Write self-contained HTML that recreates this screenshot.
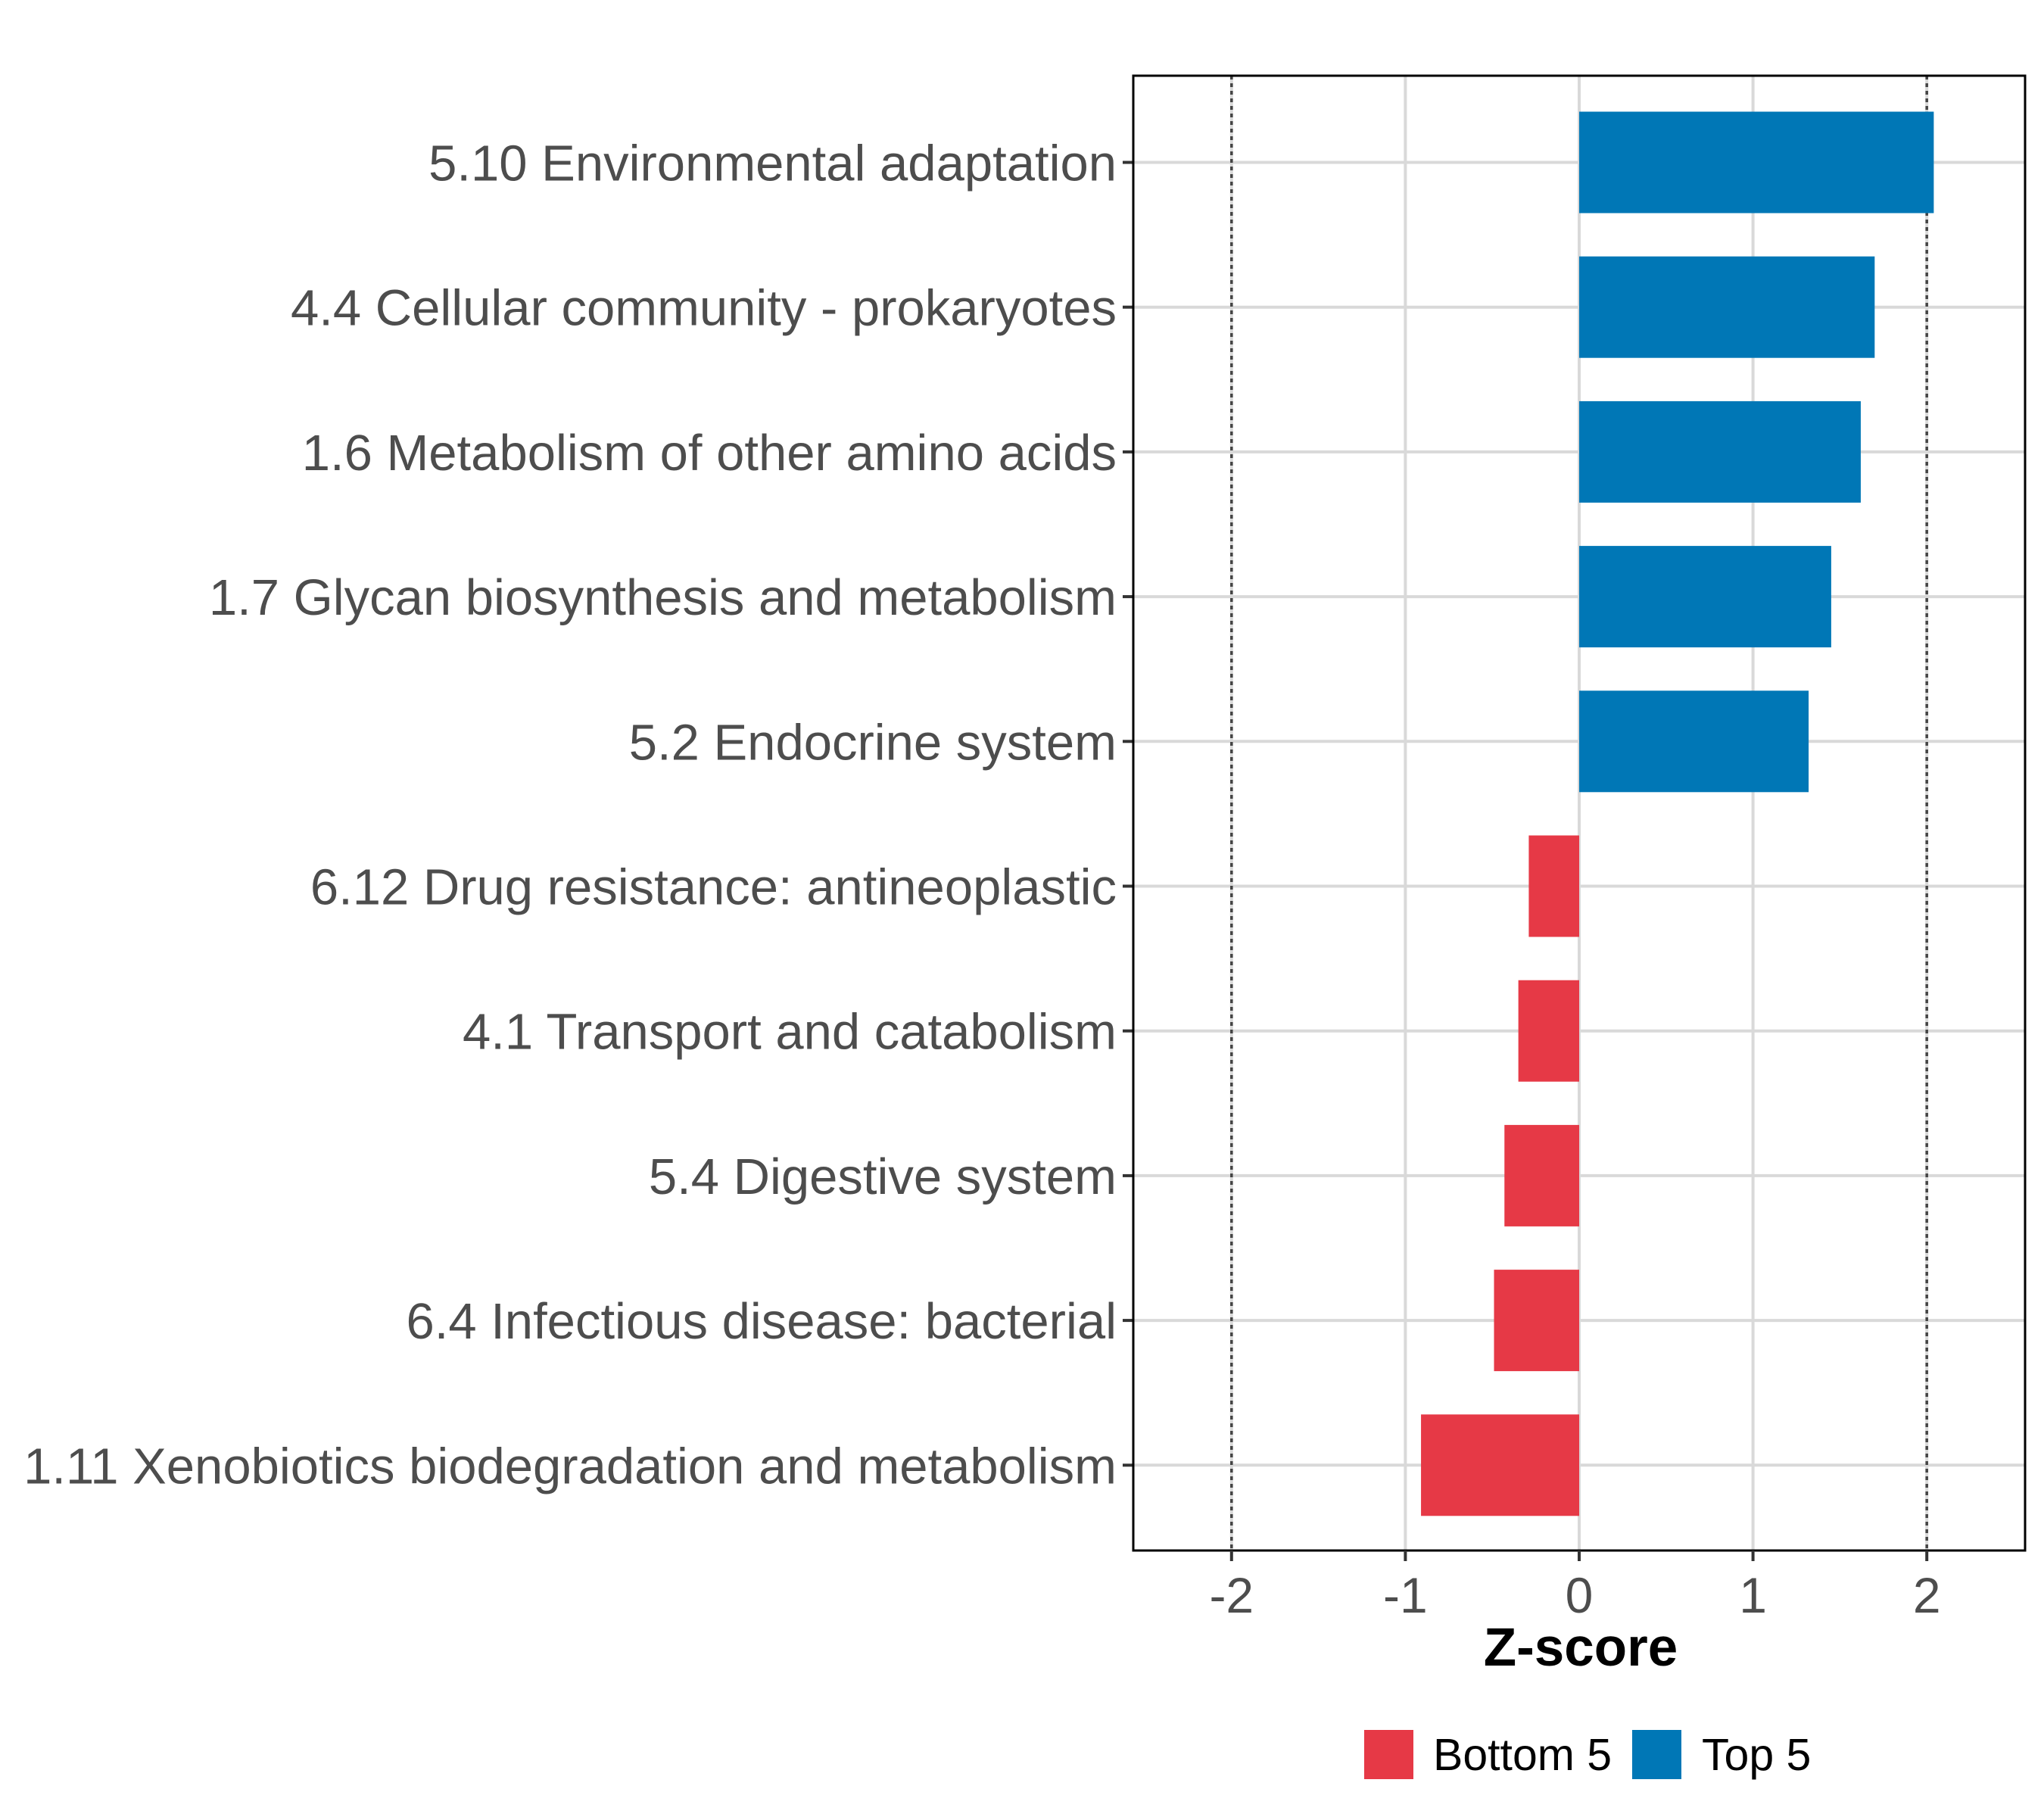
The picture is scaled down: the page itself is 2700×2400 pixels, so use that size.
<!DOCTYPE html>
<html><head><meta charset="utf-8"><style>
html,body{margin:0;padding:0;background:#fff;}
svg{display:block;font-family:"Liberation Sans",Arial,sans-serif;}
</style></head><body>
<svg id="chart" width="2700" height="2400" viewBox="0 0 2700 2400" xmlns="http://www.w3.org/2000/svg">
<rect width="2700" height="2400" fill="#fff"/>
<g id="grid"></g><g id="bars"></g><g id="axes"></g>
<text x="2088" y="2200" text-anchor="middle" font-size="71" font-weight="bold" fill="#000">Z-score</text>
<g>
<rect x="1802" y="2285" width="65" height="65" fill="#E63946"/>
<text x="1893" y="2338" font-size="59" fill="#000">Bottom 5</text>
<rect x="2156" y="2285" width="65" height="65" fill="#0077B6"/>
<text x="2248" y="2338" font-size="59" fill="#000">Top 5</text>
</g>
</svg>
<script>
const categories = ["5.10 Environmental adaptation","4.4 Cellular community - prokaryotes","1.6 Metabolism of other amino acids","1.7 Glycan biosynthesis and metabolism","5.2 Endocrine system","6.12 Drug resistance: antineoplastic","4.1 Transport and catabolism","5.4 Digestive system","6.4 Infectious disease: bacterial","1.11 Xenobiotics biodegradation and metabolism"];
const values = [2.04,1.70,1.62,1.45,1.32,-0.29,-0.35,-0.43,-0.49,-0.91];
const groups = ["Top 5","Top 5","Top 5","Top 5","Top 5","Bottom 5","Bottom 5","Bottom 5","Bottom 5","Bottom 5"];
const xTicks = [-2,-1,0,1,2];
const refLines = [-2,2];

const NS="http://www.w3.org/2000/svg";
const L=1497,R=2675,T=100,B=2048;
const x0=2086,unit=229.6;
function xs(v){return x0+v*unit;}
const step=191.2,firstY=214.5;
function ys(i){return firstY+i*step;}
const barH=134;
function mk(tag,attrs,parent){const e=document.createElementNS(NS,tag);for(const k in attrs)e.setAttribute(k,attrs[k]);parent.appendChild(e);return e;}
const grid=document.getElementById('grid'),bars=document.getElementById('bars'),axes=document.getElementById('axes');
xTicks.forEach(t=>{
  const g=mk('line',{x1:xs(t),x2:xs(t),y1:T,y2:B,stroke:'#d9d9d9','stroke-width':4},grid);
  
  
});
categories.forEach((c,i)=>{
  const g=mk('line',{x1:L,x2:R,y1:ys(i),y2:ys(i),stroke:'#d9d9d9','stroke-width':4},grid);
  
  
});
refLines.forEach(r=>{
  const l=mk('line',{x1:xs(r),x2:xs(r),y1:T,y2:B,stroke:'#444','stroke-width':3.5,'stroke-dasharray':'5 5'},bars);
  
  
});
categories.forEach((c,i)=>{
  const v=values[i];
  const b=mk('rect',{x:Math.min(xs(0),xs(v)),y:ys(i)-barH/2,width:Math.abs(xs(v)-xs(0)),height:barH,fill:groups[i]==="Top 5"?'#0077B6':'#E63946'},bars);
  
  
  const t=mk('text',{x:L-22,y:ys(i)+24,'text-anchor':'end','font-size':67,fill:'#4d4d4d'},axes);
  t.textContent=c;
  
  
  const tk=mk('line',{x1:L-14,x2:L,y1:ys(i),y2:ys(i),stroke:'#333','stroke-width':4},axes);
  
  
});
const frame=mk('rect',{x:L,y:T,width:R-L,height:B-T,fill:'none',stroke:'#000','stroke-width':3},axes);


xTicks.forEach(t=>{
  const tk=mk('line',{x1:xs(t),x2:xs(t),y1:B,y2:B+14,stroke:'#333','stroke-width':4},axes);
  
  
  const tl=mk('text',{x:xs(t),y:B+82,'text-anchor':'middle','font-size':66,fill:'#4d4d4d'},axes);
  tl.textContent=String(t);
  
  
});
</script>
</body></html>
